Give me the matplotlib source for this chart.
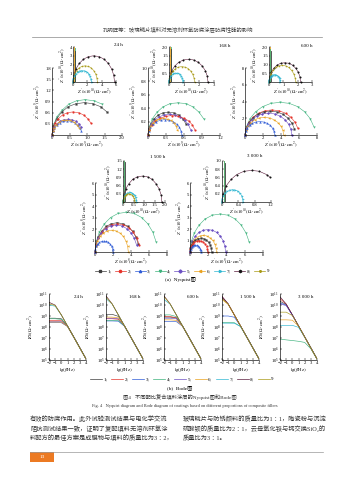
import matplotlib
matplotlib.use("Agg")
import matplotlib.pyplot as plt
from matplotlib.lines import Line2D
from matplotlib.patches import Rectangle
from matplotlib.ticker import LogFormatterMathtext, NullLocator

plt.rcParams["font.family"] = ["Liberation Serif", "Noto Sans CJK SC", "DejaVu Sans"]
plt.rcParams["mathtext.fontset"] = "stix"

W, H = 353, 480

# coatings 1-9
series_labels = ["1", "2", "3", "4", "5", "6", "7", "8", "9"]
series_colors = ["#3c3c3c", "#e5332a", "#2d5ad6", "#3db27c", "#6b4fc2",
                 "#e9a11d", "#30b7d2", "#5b1d3d", "#a99a17"]
series_markers = ["s", "o", "^", "v", "D", "<", ">", "h", "*"]

# ---------------- (a) Nyquist ----------------
# 24 h
ny24_ids = [4, 1, 2, 5, 3, 6]
ny24_zr = [[0, .04, .13, .29, .48, .70, .95, 1.20, 1.43],
           [0, .04, .13, .28, .46, .68, .93, 1.17, 1.39, 1.57],
           [0, .02, .08, .18, .30, .44, .60, .76, .90, 1.02, 1.12],
           [0, .02, .06, .14, .23, .33, .45, .57, .68, .77, .84],
           [0, .02, .06, .13, .22, .32, .43, .54, .65, .73, .80, .84],
           [0, .02, .06, .12, .21, .30, .41, .52, .62, .70, .76]]
ny24_zi = [[0, .25, .48, .67, .83, .92, .95, .92, .83],
           [0, .23, .44, .62, .76, .84, .87, .84, .76, .62],
           [0, .16, .31, .44, .54, .60, .62, .60, .54, .44, .31],
           [0, .11, .21, .30, .37, .41, .42, .41, .37, .30, .21],
           [0, .10, .19, .27, .33, .37, .38, .37, .33, .27, .19, .10],
           [0, .10, .20, .28, .35, .39, .40, .39, .35, .28, .20]]
ny24_in_ids = [8, 9, 7]
ny24_in_zr = [[0, .12, .41, .87, 1.45, 2.15, 2.9, 3.65, 4.35, 4.93, 5.39, 5.68, 5.8],
              [0, .07, .24, .51, .85, 1.26, 1.7, 2.14, 2.55, 2.89, 3.16, 3.33, 3.4],
              [0, .05, .18, .39, .65, .96, 1.3, 1.64, 1.95, 2.21, 2.42, 2.55, 2.6]]
ny24_in_zi = [[0, .78, 1.5, 2.12, 2.6, 2.9, 3.0, 2.9, 2.6, 2.12, 1.5, .78, 0],
              [0, .48, .93, 1.31, 1.61, 1.79, 1.85, 1.79, 1.61, 1.31, .93, .48, 0],
              [0, .34, .65, .92, 1.13, 1.26, 1.3, 1.26, 1.13, .92, .65, .34, 0]]
ny24_spike_ids = [6, 4, 1]
ny24_spike_zr = [0.18, 0.24, 0.3]
ny24_spike_zi = [4.0, 3.9, 3.6]

# 168 h
ny168_ids = [4, 1, 5, 2, 3, 6]
ny168_zr = [[0, .02, .07, .15, .25, .37, .5, .63, .75, .85, .93],
            [0, .01, .05, .10, .17, .25, .34, .43, .51, .58, .63],
            [0, .01, .05, .11, .18, .27, .36, .45, .54, .61, .67, .71],
            [0, .02, .06, .12, .20, .30, .40, .50, .60, .68, .74, .78],
            [0, .01, .04, .08, .14, .21, .28, .35, .42, .48, .52, .55, .56],
            [0, .01, .04, .08, .13, .19, .25, .31, .38, .43, .47, .49]]
ny168_zi = [[0, .12, .24, .34, .42, .47, .48, .47, .42, .34, .24],
            [0, .09, .17, .24, .30, .33, .34, .33, .30, .24, .17],
            [0, .08, .16, .22, .27, .30, .31, .30, .27, .22, .16, .08],
            [0, .08, .15, .21, .25, .28, .29, .28, .25, .21, .15, .08],
            [0, .06, .12, .16, .20, .22, .23, .22, .20, .16, .12, .06, 0],
            [0, .07, .13, .18, .22, .24, .25, .24, .22, .18, .13, .07]]
ny168_in_ids = [8, 9, 7]
ny168_in_zr = [[0, .05, .18, .39, .65, .96, 1.3, 1.64, 1.95, 2.21, 2.42, 2.55, 2.6],
               [0, .03, .12, .26, .43, .63, .85, 1.07, 1.28, 1.45, 1.58, 1.67, 1.7],
               [0, .02, .07, .14, .24, .35, .48, .60, .71, .81, .88, .93, .95]]
ny168_in_zi = [[0, .34, .65, .92, 1.13, 1.26, 1.3, 1.26, 1.13, .92, .65, .34, 0],
               [0, .23, .44, .62, .77, .85, .88, .85, .77, .62, .44, .23, 0],
               [0, .13, .25, .36, .44, .49, .5, .49, .44, .36, .25, .13, 0]]
ny168_spike_ids = [6, 4, 1]
ny168_spike_zr = [0.08, 0.11, 0.14]
ny168_spike_zi = [2.0, 2.0, 1.9]

# 600 h
ny600_ids = [4, 2, 1, 5, 6, 3]
ny600_zr = [[0, .16, .55, 1.17, 1.95, 2.89, 3.9, 4.91, 5.85, 6.63, 7.25, 7.64],
            [0, .12, .42, .9, 1.5, 2.22, 3.0, 3.78, 4.5, 5.1, 5.58, 5.88],
            [0, .11, .39, .84, 1.4, 2.07, 2.8, 3.53, 4.2, 4.76, 5.21, 5.49],
            [0, .10, .36, .78, 1.3, 1.92, 2.6, 3.28, 3.9, 4.42, 4.84, 5.10, 5.2],
            [0, .09, .30, .65, 1.08, 1.59, 2.15, 2.71, 3.23, 3.66, 4.0, 4.21, 4.3],
            [0, .07, .23, .50, .83, 1.22, 1.65, 2.08, 2.48, 2.81, 3.07, 3.23, 3.3]]
ny600_zi = [[0, 1.01, 1.95, 2.77, 3.39, 3.78, 3.9, 3.78, 3.39, 2.77, 1.95, 1.01],
            [0, .78, 1.5, 2.12, 2.6, 2.9, 3.0, 2.9, 2.6, 2.12, 1.5, .78],
            [0, .74, 1.43, 2.02, 2.48, 2.76, 2.85, 2.76, 2.48, 2.02, 1.43, .74],
            [0, .68, 1.3, 1.85, 2.26, 2.52, 2.6, 2.52, 2.26, 1.85, 1.3, .68, 0],
            [0, .55, 1.05, 1.49, 1.83, 2.04, 2.1, 2.04, 1.83, 1.49, 1.05, .55, 0],
            [0, .42, .8, 1.14, 1.39, 1.55, 1.6, 1.55, 1.39, 1.14, .8, .42, 0]]
ny600_in_ids = [8, 9, 7]
ny600_in_zr = [[0, .04, .15, .33, .55, .81, 1.1, 1.39, 1.65, 1.87, 2.05, 2.16, 2.2],
               [0, .04, .13, .28, .46, .68, .93, 1.17, 1.39, 1.57, 1.72, 1.82, 1.85],
               [0, .02, .06, .12, .2, .3, .4, .5, .6, .68, .74, .78, .8]]
ny600_in_zi = [[0, .29, .55, .78, .96, 1.07, 1.1, 1.07, .96, .78, .55, .29, 0],
               [0, .25, .48, .67, .83, .92, .95, .92, .83, .67, .48, .25, 0],
               [0, .11, .21, .30, .37, .41, .42, .41, .37, .30, .21, .11, 0]]
ny600_spike_ids = [6, 4, 1]
ny600_spike_zr = [0.06, 0.09, 0.12]
ny600_spike_zi = [2.0, 1.9, 1.8]

# 1 500 h
ny1500_ids = [4, 1, 2, 5, 6, 3]
ny1500_zr = [[0, .14, .48, 1.04, 1.73, 2.55, 3.45, 4.35, 5.18, 5.87, 6.42, 6.78],
             [0, .10, .34, .74, 1.23, 1.81, 2.45, 3.08, 3.68, 4.17, 4.56, 4.82],
             [0, .10, .35, .75, 1.25, 1.85, 2.5, 3.15, 3.75, 4.25, 4.65, 4.9],
             [0, .09, .33, .71, 1.18, 1.74, 2.35, 2.96, 3.53, 4.0, 4.37, 4.62],
             [0, .07, .26, .56, .93, 1.37, 1.85, 2.33, 2.78, 3.15, 3.44, 3.63, 3.7],
             [0, .04, .14, .30, .5, .74, 1.0, 1.26, 1.5, 1.7, 1.86, 1.96, 2.0]]
ny1500_zi = [[0, .9, 1.73, 2.45, 3.0, 3.35, 3.45, 3.35, 3.0, 2.45, 1.73, .9],
             [0, .66, 1.28, 1.81, 2.22, 2.46, 2.55, 2.46, 2.22, 1.81, 1.28, .66],
             [0, .64, 1.23, 1.74, 2.13, 2.38, 2.45, 2.38, 2.13, 1.74, 1.23, .64],
             [0, .61, 1.18, 1.67, 2.04, 2.27, 2.35, 2.27, 2.04, 1.67, 1.18, .61],
             [0, .49, .95, 1.35, 1.65, 1.84, 1.9, 1.84, 1.65, 1.35, .95, .49, 0],
             [0, .25, .48, .67, .83, .92, .95, .92, .83, .67, .48, .25, 0]]
ny1500_in_ids = [8, 7, 9]
ny1500_in_zr = [[0, .04, .13, .28, .46, .68, .93, 1.17, 1.39, 1.57, 1.72, 1.82, 1.85],
                [0, .01, .05, .1, .16, .24, .33, .41, .49, .55, .6, .64, .65],
                [0, .01, .04, .08, .14, .2, .28, .35, .41, .47, .51, .54, .55]]
ny1500_in_zi = [[0, .25, .48, .67, .83, .92, .95, .92, .83, .67, .48, .25, 0],
                [0, .09, .18, .25, .3, .34, .35, .34, .3, .25, .18, .09, 0],
                [0, .08, .15, .21, .26, .29, .3, .29, .26, .21, .15, .08, 0]]
ny1500_spike_ids = [6, 4, 1]
ny1500_spike_zr = [0.05, 0.07, 0.09]
ny1500_spike_zi = [1.5, 1.5, 1.45]

# 3 000 h
ny3000_ids = [4, 5, 6, 1, 2, 3]
ny3000_zr = [[0, .13, .46, .99, 1.65, 2.44, 3.3, 4.16, 4.95, 5.61, 6.14, 6.49],
             [0, .08, .27, .59, .98, 1.44, 1.95, 2.46, 2.93, 3.32, 3.63, 3.82, 3.9],
             [0, .06, .2, .44, .73, 1.07, 1.45, 1.83, 2.18, 2.47, 2.7, 2.85, 2.9],
             [0, .05, .17, .36, .6, .89, 1.2, 1.51, 1.8, 2.04, 2.23, 2.35, 2.4],
             [0, .04, .14, .29, .49, .72, .98, 1.23, 1.46, 1.66, 1.81, 1.91, 1.95],
             [0, .02, .08, .18, .3, .44, .6, .76, .9, 1.02, 1.12, 1.18, 1.2]]
ny3000_zi = [[0, .86, 1.65, 2.34, 2.87, 3.2, 3.3, 3.2, 2.87, 2.34, 1.65, .86],
             [0, .51, .98, 1.38, 1.7, 1.89, 1.95, 1.89, 1.7, 1.38, .98, .51, 0],
             [0, .38, .73, 1.03, 1.26, 1.4, 1.45, 1.4, 1.26, 1.03, .73, .38, 0],
             [0, .31, .6, .85, 1.04, 1.16, 1.2, 1.16, 1.04, .85, .6, .31, 0],
             [0, .25, .49, .7, .85, .95, .98, .95, .85, .7, .49, .25, 0],
             [0, .16, .3, .43, .52, .58, .6, .58, .52, .43, .3, .16, 0]]
ny3000_in_ids = [8, 7]
ny3000_in_zr = [[0, .03, .10, .22, .36, .54, .73, .91, 1.09, 1.18],
                [0, .01, .03, .08, .13, .19, .26, .33, .39, .44, .49, .51, .52]]
ny3000_in_zi = [[0, .2, .39, .55, .67, .75, .77, .75, .67, .6],
                [0, .08, .15, .21, .26, .29, .3, .29, .26, .21, .15, .08, 0]]
ny3000_spike_ids = [6, 4, 1]
ny3000_spike_zr = [0.04, 0.06, 0.08]
ny3000_spike_zi = [1.0, 1.0, 0.95]

# ---------------- (b) Bode, lg|Z| of coatings 1-9 ----------------
bode_lgf = [-2, -1, 0, 1, 2, 3, 4]
bode_24h = [[8.8, 8.8, 8.75, 8.09, 7.12, 6.12, 5.12],
            [8.6, 8.6, 8.58, 8.08, 7.1, 6.1, 5.1],
            [8.4, 8.4, 8.39, 8.05, 7.08, 6.08, 5.08],
            [8.75, 8.75, 8.69, 8.08, 7.1, 6.1, 5.1],
            [8.5, 8.5, 8.49, 8.07, 7.1, 6.1, 5.1],
            [8.45, 8.45, 8.44, 8.05, 7.07, 6.07, 5.07],
            [10.0, 9.89, 9.09, 8.1, 7.1, 6.1, 5.1],
            [10.25, 9.99, 9.1, 8.1, 7.11, 6.11, 5.11],
            [10.12, 9.95, 9.1, 8.1, 7.1, 6.1, 5.1]]
bode_168h = [[9.15, 9.15, 8.97, 8.1, 7.12, 6.12, 5.12],
             [8.75, 8.75, 8.7, 8.09, 7.1, 6.1, 5.1],
             [8.55, 8.55, 8.53, 8.07, 7.08, 6.08, 5.08],
             [8.6, 8.6, 8.58, 8.08, 7.1, 6.1, 5.1],
             [8.8, 8.8, 8.75, 8.09, 7.1, 6.1, 5.1],
             [8.9, 8.9, 8.83, 8.1, 7.1, 6.1, 5.1],
             [10.58, 10.08, 9.1, 8.1, 7.1, 6.1, 5.1],
             [10.83, 10.1, 9.1, 8.1, 7.11, 6.11, 5.11],
             [10.71, 10.09, 9.1, 8.1, 7.1, 6.1, 5.1]]
bode_600h = [[8.9, 8.9, 8.83, 8.1, 7.12, 6.12, 5.12],
             [8.95, 8.95, 8.85, 8.1, 7.1, 6.1, 5.1],
             [8.5, 8.5, 8.49, 8.07, 7.08, 6.08, 5.08],
             [9.1, 9.1, 8.95, 8.1, 7.1, 6.1, 5.1],
             [8.8, 8.8, 8.75, 8.09, 7.1, 6.1, 5.1],
             [8.65, 8.65, 8.61, 8.08, 7.07, 6.07, 5.07],
             [10.49, 10.07, 9.1, 8.1, 7.1, 6.1, 5.1],
             [10.83, 10.1, 9.1, 8.1, 7.11, 6.11, 5.11],
             [10.75, 10.09, 9.1, 8.1, 7.1, 6.1, 5.1]]
bode_1500h = [[10.67, 10.08, 9.1, 8.1, 7.12, 6.12, 5.12],
              [10.75, 10.09, 9.1, 8.1, 7.1, 6.1, 5.1],
              [9.0, 9.0, 8.89, 8.1, 7.08, 6.08, 5.08],
              [8.4, 8.4, 8.39, 8.05, 7.1, 6.1, 5.1],
              [10.71, 10.09, 9.1, 8.1, 7.1, 6.1, 5.1],
              [10.49, 10.07, 9.1, 8.1, 7.07, 6.07, 5.07],
              [8.35, 8.35, 8.34, 8.04, 7.1, 6.1, 5.1],
              [10.79, 10.1, 9.1, 8.1, 7.11, 6.11, 5.11],
              [10.58, 10.08, 9.1, 8.1, 7.1, 6.1, 5.1]]
bode_3000h = [[10.34, 10.04, 9.1, 8.1, 7.12, 6.12, 5.12],
              [10.58, 10.08, 9.1, 8.1, 7.1, 6.1, 5.1],
              [10.19, 9.99, 9.1, 8.1, 7.08, 6.08, 5.08],
              [6.9, 6.83, 6.77, 6.7, 6.6, 6.02, 5.08],
              [10.1, 9.95, 9.09, 8.1, 7.1, 6.1, 5.1],
              [8.65, 8.65, 8.62, 8.08, 7.07, 6.07, 5.07],
              [8.15, 8.15, 8.15, 7.97, 7.09, 6.1, 5.1],
              [10.75, 10.09, 9.1, 8.1, 7.11, 6.11, 5.11],
              [9.35, 9.35, 9.04, 8.1, 7.1, 6.1, 5.1]]
bode_times = ["24 h", "168 h", "600 h", "1 500 h", "3 000 h"]

header = "孔明旺等：玻璃鳞片填料对无溶剂环氧防腐涂层防腐性能的影响"
caption_cn = "图4   不同配比复合填料涂层的Nyquist图和Bode图"
caption_en = ("Fig. 4   Nyquist diagram and Bode diagram of coatings based on "
              "different proportions of composite fillers")
body_left = ["有效的防腐作用。此外试验测试结果与电化学交流",
             "阻抗测试结果一致，证明了复配填料无溶剂环氧涂",
             "料配方的最佳方案是成膜物与填料的质量比为3∶2，"]
body_right = ["玻璃鳞片与防锈颜料的质量比为1∶1，陶瓷粉与沉淀",
              "硫酸钡的质量比为2∶1，云母氧化铁与钙交换SiO₂的",
              "质量比为3∶1。"]
page_no = "13"

fig = plt.figure(figsize=(W / 100, H / 100), dpi=100)


def px_axes(x0, y0, x1, y1):
    return fig.add_axes([x0 / W, 1 - y1 / H, (x1 - x0) / W, (y1 - y0) / H])


def ftext(x, y, s, **kw):
    fig.text(x / W, 1 - y / H, s, ha=kw.pop("ha", "center"), va=kw.pop("va", "center"), **kw)


def style(ax, fs=3.3):
    for s in ["top", "right"]:
        ax.spines[s].set_visible(False)
    for s in ["left", "bottom"]:
        ax.spines[s].set_linewidth(0.45)
    ax.tick_params(direction="in", length=1.4, width=0.35, labelsize=fs, pad=0.8)
    ax.patch.set_alpha(0)


def setup(ax, xlim, ylim, xt, yt, unit_x, unit_y):
    style(ax)
    ax.set_xlim(*xlim)
    ax.set_ylim(*ylim)
    ax.set_xticks(xt)
    ax.set_xticklabels(["0" if v == 0 else f"{v:g}" if isinstance(v, int) else f"{v:.1f}" for v in xt])
    ax.set_yticks(yt)
    ax.set_yticklabels([f"{v:g}" if isinstance(v, int) else f"{v:.1f}" for v in yt])
    ax.set_xlabel(r"$Z'/{\times}10^{%d}(\Omega\cdot\mathrm{cm}^{2})$" % unit_x, fontsize=3.3, labelpad=0.6)
    ax.set_ylabel(r"$Z''/{\times}10^{%d}(\Omega\cdot\mathrm{cm}^{2})$" % unit_y, fontsize=3.3, labelpad=0.6)


def arcs(ax, ids, zr, zi):
    for k, x, y in zip(ids, zr, zi):
        c = series_colors[k - 1]
        mc = "#151515" if k == 8 else c
        ax.plot(x, y, color=c, lw=0.4, marker=series_markers[k - 1], ms=1.3,
                mfc=mc, mec=mc, mew=0.2, clip_on=False)


def spikes(ax, ids, zr, zi):
    for k, x, top in zip(ids, zr, zi):
        ax.plot([x, x], [0, top], color=series_colors[k - 1], lw=0.6)


# Nyquist panels: (main box, inset box, data, limits)
nyq_panels = [
    ((52, 68, 122, 135), (73, 47, 116, 82),
     (ny24_ids, ny24_zr, ny24_zi), (ny24_in_ids, ny24_in_zr, ny24_in_zi),
     (ny24_spike_ids, ny24_spike_zr, ny24_spike_zi),
     ((0, 2.0), (0, 1.8), [0, 0.5, 1.0, 1.5, 2.0], [0.3, 0.6, 0.9, 1.2, 1.5, 1.8], 9),
     ((0, 6), (0, 4), [0, 2, 4, 6], [1, 2, 3, 4], 10), "24 h", (118, 45)),
    ((148, 68, 220, 135), (169, 47, 214, 82),
     (ny168_ids, ny168_zr, ny168_zi), (ny168_in_ids, ny168_in_zr, ny168_in_zi),
     (ny168_spike_ids, ny168_spike_zr, ny168_spike_zi),
     ((0, 1.2), (0, 1.0), [0, 0.3, 0.6, 0.9, 1.2], [0.2, 0.4, 0.6, 0.8, 1.0], 9),
     ((0, 3), (0, 2.0), [0, 1, 2, 3], [0.5, 1.0, 1.5, 2.0], 10), "168 h", (225, 46)),
    ((245, 68, 317, 135), (269, 47, 312, 82),
     (ny600_ids, ny600_zr, ny600_zi), (ny600_in_ids, ny600_in_zr, ny600_in_zi),
     (ny600_spike_ids, ny600_spike_zr, ny600_spike_zi),
     ((0, 8), (0, 8), [0, 2, 4, 6, 8], [2, 4, 6, 8], 8),
     ((0, 3), (0, 2.0), [0, 1, 2, 3], [0.5, 1.0, 1.5, 2.0], 10), "600 h", (307, 46)),
    ((95, 183, 167, 252), (123, 161, 165, 202),
     (ny1500_ids, ny1500_zr, ny1500_zi), (ny1500_in_ids, ny1500_in_zr, ny1500_in_zi),
     (ny1500_spike_ids, ny1500_spike_zr, ny1500_spike_zi),
     ((0, 8), (0, 6), [0, 2, 4, 6, 8], [1, 2, 3, 4, 5, 6], 8),
     ((0, 2.0), (0, 1.5), [0, 0.5, 1.0, 1.5, 2.0], [0.3, 0.6, 0.9, 1.2, 1.5], 10), "1 500 h", (158, 157)),
    ((190, 183, 263, 252), (222, 161, 271, 202),
     (ny3000_ids, ny3000_zr, ny3000_zi), (ny3000_in_ids, ny3000_in_zr, ny3000_in_zi),
     (ny3000_spike_ids, ny3000_spike_zr, ny3000_spike_zi),
     ((0, 8), (0, 6), [0, 2, 4, 6, 8], [1, 2, 3, 4, 5, 6], 8),
     ((0, 1.2), (0, 1.0), [0, 0.4, 0.8, 1.2], [0.2, 0.4, 0.6, 0.8, 1.0], 10), "3 000 h", (255, 156)),
]

for mbox, ibox, mdat, idat, sdat, mlim, ilim, tlabel, tpos in nyq_panels:
    ax = px_axes(*mbox)
    arcs(ax, *mdat)
    setup(ax, mlim[0], mlim[1], mlim[2], mlim[3], mlim[4], mlim[4])
    axi = px_axes(*ibox)
    spikes(axi, *sdat)
    arcs(axi, *idat)
    setup(axi, ilim[0], ilim[1], ilim[2], ilim[3], ilim[4], ilim[4])
    ftext(tpos[0], tpos[1], tlabel, fontsize=3.6)

# legend for (a)
hs = [Line2D([], [], color=c, lw=0.5, marker=m, ms=1.6, mfc=("#151515" if i == 7 else c),
             mec=("#151515" if i == 7 else c))
      for i, (c, m) in enumerate(zip(series_colors, series_markers))]
labs = [s + (";" if i < 8 else "") for i, s in enumerate(series_labels)]
fig.legend(hs, labs, loc="center", bbox_to_anchor=(182 / W, 1 - 271 / H), ncol=9,
           fontsize=3.6, frameon=False, handlelength=2.2, handletextpad=0.3,
           columnspacing=0.7, borderpad=0)
ftext(180, 280, "(a)  Nyquist图", fontsize=3.8)

# Bode panels
bode_sets = [bode_24h, bode_168h, bode_600h, bode_1500h, bode_3000h]
bode_x = [(49, 86), (106, 143), (164, 201), (222, 259), (280, 317)]
bode_lab = [(78, 297), (135, 297), (193, 297), (248, 297), (306, 297)]
for data, (x0, x1), t, (tx, ty) in zip(bode_sets, bode_x, bode_times, bode_lab):
    ax = px_axes(x0, 294, x1, 360)
    for k, vals in enumerate(data):
        ax.plot(bode_lgf, [10 ** v for v in vals], color=series_colors[k], lw=0.45)
    style(ax)
    ax.set_yscale("log")
    ax.set_ylim(1e5, 1e11)
    ax.set_xlim(-2, 4)
    ax.set_xticks(bode_lgf)
    ax.set_yticks([10 ** e for e in range(5, 12)])
    ax.yaxis.set_major_formatter(LogFormatterMathtext())
    ax.yaxis.set_minor_locator(NullLocator())
    ax.set_xlabel(r"$\mathrm{lg}(f/\mathrm{Hz})$", fontsize=3.4, labelpad=0.6)
    ax.set_ylabel(r"$|Z|/(\Omega\cdot\mathrm{cm}^{2})$", fontsize=3.4, labelpad=0.6)
    ftext(tx, ty, t, fontsize=3.6)

hb = [Line2D([], [], color=c, lw=0.5) for c in series_colors]
fig.legend(hb, labs, loc="center", bbox_to_anchor=(182 / W, 1 - 379 / H), ncol=9,
           fontsize=3.6, frameon=False, handlelength=2.4, handletextpad=0.3,
           columnspacing=0.7, borderpad=0)
ftext(180, 388, "(b)  Bode图", fontsize=3.8)

# page furniture
ftext(178, 30, header, fontsize=3.9, color="#444444")
fig.add_artist(Line2D([32 / W, 322 / W], [1 - 37 / H, 1 - 37 / H], color="#888888", lw=0.5))
ftext(180, 397, caption_cn, fontsize=3.8, color="#333333")
ftext(185, 406, caption_en, fontsize=3.2, color="#333333")
for i, s in enumerate(body_left):
    ftext(30, 419 + 9.5 * i, s, ha="left", fontsize=4.5, color="#333333")
for i, s in enumerate(body_right):
    ftext(183, 419 + 9.5 * i, s, ha="left", fontsize=4.5, color="#333333")
fig.add_artist(Line2D([30 / W, 323 / W], [1 - 452 / H, 1 - 452 / H], color="#999999", lw=0.5))
fig.add_artist(Rectangle((30 / W, 1 - 462 / H), 24 / W, 10 / H, transform=fig.transFigure,
                         color="#ec7a23", lw=0))
ftext(42, 457, page_no, fontsize=3.8, color="white")

fig.savefig("out.png", dpi=100)
